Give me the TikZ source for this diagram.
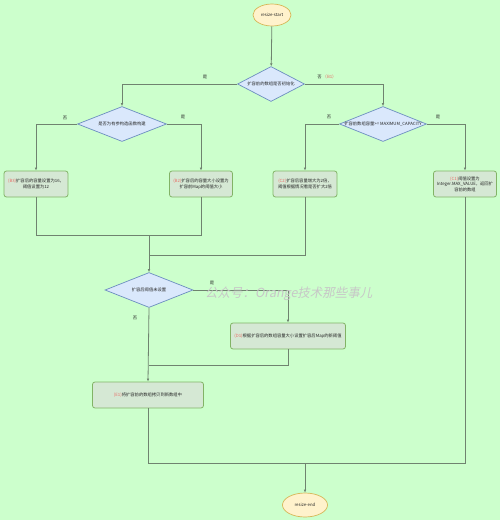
\documentclass[tikz,border=0pt]{standalone}
\usepackage{fontspec}
\setmainfont{Noto Sans CJK SC}
\newfontfamily\cjk{Noto Sans CJK SC}
\usetikzlibrary{shapes.geometric,arrows.meta}
\definecolor{bg}{HTML}{CCFFCC}
\definecolor{dfill}{HTML}{DAE8FC}
\definecolor{ddraw}{HTML}{6C8EBF}
\definecolor{bfill}{HTML}{D5E8D4}
\definecolor{bdraw}{HTML}{82B366}
\definecolor{efill}{HTML}{FFF2CC}
\definecolor{edraw}{HTML}{D6B656}
\definecolor{lcol}{HTML}{6F836F}
\definecolor{tagred}{HTML}{EA6B66}
\tikzset{
  txt/.style={font=\cjk\fontsize{4.3}{5.4}\selectfont, text=black!85},
  term/.style={ellipse, draw=edraw, fill=efill, line width=0.7pt, inner sep=0pt, txt},
  dec/.style={diamond, draw=ddraw, fill=dfill, line width=0.7pt, inner sep=0pt, txt},
  proc/.style={rectangle, rounded corners=2.5pt, draw=bdraw, fill=bfill, line width=0.8pt, inner sep=0pt, txt, align=center},
  conn/.style={draw=lcol, line width=0.8pt},
  arr/.style={conn, -{Latex[length=3pt,width=2.6pt]}},
  elab/.style={txt, inner sep=0pt},
  wm/.style={font=\cjk\fontsize{12.5}{14}\selectfont, text=black!22, inner sep=0pt, anchor=base west}
}
\newcommand{\tg}[1]{\textcolor{tagred}{#1}}
\begin{document}
\begin{tikzpicture}[x=1pt,y=-1pt]
\fill[bg] (0,0) rectangle (500,520);
\useasboundingbox (0,0) rectangle (500,520);

\node[term, minimum width=38pt, minimum height=22pt] (start) at (272,15) {resize-start};
\node[dec, minimum width=67pt, minimum height=35pt] (d1) at (271,84) {\makebox[0pt]{扩容前的数组是否初始化}};
\node[dec, minimum width=89pt, minimum height=35pt] (dL) at (122,124) {\makebox[0pt]{是否为有参构造函数构建}};
\node[dec, minimum width=87pt, minimum height=35pt] (dR) at (383,124) {\makebox[0pt]{扩容前数组容量>= MAXIMUM\_CAPACITY}};

\node[proc, minimum width=64pt, minimum height=26pt] (b3) at (36,184) {\tg{(B3)}扩容后的容量设置为16，\\阈值设置为12};
\node[proc, minimum width=63pt, minimum height=26pt] (b2) at (201,184) {\tg{(B2)}扩容后的容量大小设置为\\扩容前Map的阈值大小};
\node[proc, minimum width=64pt, minimum height=26pt] (c2) at (305,184) {\tg{(C2)}扩容后容量增大为2倍，\\阈值根据情况看是否扩大2倍};
\node[proc, minimum width=63pt, minimum height=26pt] (c1) at (465,184) {\tg{(C1)}阈值设置为\\Integer.MAX\_VALUE，返回扩\\容前的数组};

\node[dec, minimum width=88pt, minimum height=35pt] (dD) at (149,290) {\makebox[0pt]{扩容后阈值未设置}};
\node[proc, minimum width=115pt, minimum height=26pt] (d1b) at (288,336) {\tg{(D1)}根据扩容后的数组容量大小设置扩容后Map的新阈值};
\node[proc, minimum width=111pt, minimum height=26pt] (e1) at (148,395) {\tg{(E1)}将扩容前的数组拷贝到新数组中};
\node[term, minimum width=45pt, minimum height=24pt] (end) at (305,505) {resize-end};

\coordinate (j1) at (149,235);
\coordinate (j2) at (149,255);
\coordinate (j3) at (149,365);
\coordinate (j4) at (305,463);

\draw[arr] (start) -- (d1);
\draw[arr] (d1.west) -| (dL.north);
\draw[arr] (d1.east) -| (dR.north);
\draw[arr] (dL.west) -| (b3.north);
\draw[arr] (dL.east) -| (b2.north);
\draw[arr] (dR.west) -| (c2.north);
\draw[arr] (dR.east) -| (c1.north);
\draw[conn] (b3.south) |- (j1);
\draw[conn] (b2.south) |- (j1);
\draw[conn] (c2.south) |- (j2);
\draw[arr] (j1) -- (dD.north);
\draw[arr] (dD.east) -| (d1b.north);
\draw[arr] (dD.south) -- (e1.north);
\draw[conn] (d1b.south) |- (j3);
\draw[conn] (e1.south) |- (j4);
\draw[conn] (c1.south) |- (j4);
\draw[arr] (j4) -- (end.north);

\node[elab] (l1) at (205,77) {是};
\node[elab] (l2) at (327,77) {否 \tg{（B1）}};
\node[elab] (l3) at (65,118) {否};
\node[elab] (l4) at (183,117) {是};
\node[elab] (l5) at (329,117) {否};
\node[elab] (l6) at (438,117) {是};
\node[elab] (l7) at (212,283) {是};
\node[elab] (l8) at (135,318) {否};

\node[wm, xslant=0.2] (wmk) at (205,297) {公众号：Orange技术那些事儿};
\end{tikzpicture}
\end{document}
